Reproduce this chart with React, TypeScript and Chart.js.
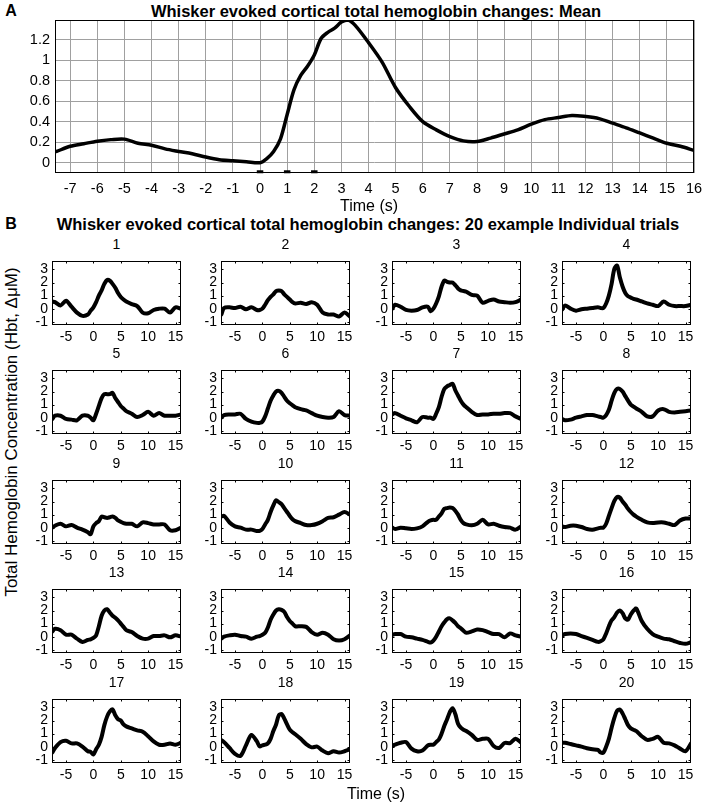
import React, { useEffect, useRef } from "react";
import { Chart, registerables } from "chart.js";

Chart.register(...registerables);

const FONT = "'Liberation Sans', Arial, Helvetica, sans-serif";

// ---------- Panel A: mean response ----------
const meanTime = [
  -7.5, -7, -6.5, -6, -5.5, -5, -4.5, -4, -3.5, -3, -2.5, -2, -1.5, -1, -0.5, 0,
  0.25, 0.5, 0.75, 1, 1.25, 1.5, 1.75, 2, 2.25, 2.5, 2.75, 3, 3.25, 3.5,
  4, 4.5, 5, 5.5, 6, 6.5, 7, 7.5, 8, 8.5, 9, 9.5, 10, 10.5, 11, 11.5, 12, 12.5,
  13, 13.5, 14, 14.5, 15, 15.5, 16,
];
const meanValues = [
  0.11, 0.16, 0.185, 0.21, 0.225, 0.23, 0.19, 0.17, 0.135, 0.11, 0.087, 0.055, 0.03, 0.02, 0.01, 0.0,
  0.04, 0.11, 0.23, 0.47, 0.71, 0.85, 0.94, 1.05, 1.21, 1.27, 1.31, 1.37, 1.39, 1.34,
  1.17, 0.98, 0.73, 0.55, 0.4, 0.32, 0.255, 0.213, 0.207, 0.24, 0.28, 0.32, 0.375, 0.42, 0.44, 0.46, 0.45, 0.43,
  0.385, 0.34, 0.29, 0.24, 0.19, 0.16, 0.12,
];
const stimTimes = [0, 1, 2];
const meanXTicks = [-7, -6, -5, -4, -3, -2, -1, 0, 1, 2, 3, 4, 5, 6, 7, 8, 9, 10, 11, 12, 13, 14, 15, 16];
const meanYTicks = [0, 0.2, 0.4, 0.6, 0.8, 1, 1.2];
const meanXRange = [-7.56, 16];
const meanYRange = [-0.1, 1.39];

// ---------- Panel B: individual trials ----------
const trialTime = [
  -7.5, -7, -6, -5, -4, -3, -2, -1,
  -0.5, 0, 0.5, 1, 1.5, 2, 2.5, 3, 3.5, 4, 4.5, 5, 5.5, 6,
  7, 8, 9, 10, 11, 12, 13, 14, 15, 16,
];
const trial1 = [0.55, 0.5, 0.25, 0.6, 0.15, -0.3, -0.55, -0.45, -0.15, 0.1, 0.5, 1.0, 1.4, 1.9, 2.2, 2.15, 1.9, 1.6, 1.2, 0.9, 0.7, 0.55, 0.35, 0.2, -0.3, -0.35, -0.1, 0, 0, -0.3, 0.1, 0];
const trial2 = [-0.45, 0.05, 0.1, 0.05, 0.15, -0.05, 0.1, -0.1, -0.1, 0.0, 0.3, 0.65, 0.9, 1.1, 1.35, 1.4, 1.35, 1.1, 0.9, 0.7, 0.5, 0.4, 0.45, 0.35, 0.5, 0.3, -0.3, -0.45, -0.45, -0.6, -0.3, -0.6];
const trial3 = [0.0, 0.3, 0.15, -0.1, -0.15, -0.1, 0.1, 0.15, -0.2, 0.0, 0.4, 0.95, 1.7, 2.15, 2.05, 2.0, 2.0, 1.8, 1.55, 1.4, 1.35, 1.3, 1.05, 1.0, 0.45, 0.6, 0.7, 0.55, 0.5, 0.45, 0.5, 0.7];
const trial4 = [-0.05, 0.25, 0.0, -0.15, -0.05, 0.0, 0.05, 0.1, 0.05, 0.05, 0.4, 1.0, 1.9, 3.05, 3.3, 2.4, 1.7, 1.2, 0.95, 0.85, 0.75, 0.7, 0.55, 0.4, 0.3, 0.2, 0.55, 0.3, 0.2, 0.2, 0.2, 0.3];
const trial5 = [-0.1, 0.15, 0.15, -0.1, -0.15, -0.2, 0.15, 0.15, 0.0, -0.2, 0.3, 0.9, 1.5, 1.8, 1.8, 1.8, 1.9, 1.5, 1.2, 0.9, 0.7, 0.5, 0.3, 0.05, 0.2, 0.45, 0.15, 0.35, 0.15, 0.15, 0.15, 0.25];
const trial6 = [0.0, 0.2, 0.25, 0.25, 0.3, -0.1, -0.3, -0.4, -0.4, -0.3, 0.1, 0.7, 1.3, 1.7, 2.0, 2.05, 1.9, 1.6, 1.3, 1.1, 0.95, 0.8, 0.65, 0.55, 0.35, 0.15, 0.05, 0.0, 0.05, 0.5, 0.2, 0.15];
const trial7 = [0.25, 0.35, 0.15, -0.05, -0.2, -0.35, 0.05, 0.0, 0.0, -0.1, 0.3, 0.8, 1.6, 2.2, 2.4, 2.5, 2.6, 2.1, 1.7, 1.3, 1.0, 0.8, 0.45, 0.2, 0.25, 0.25, 0.3, 0.3, 0.35, 0.35, 0.1, -0.1];
const trial8 = [-0.1, -0.2, -0.15, 0.0, 0.1, 0.2, 0.2, 0.1, 0.05, 0.0, 0.2, 0.6, 1.3, 1.9, 2.2, 2.2, 2.0, 1.65, 1.3, 1.0, 0.85, 0.7, 0.45, 0.1, 0.1, 0.55, 0.65, 0.45, 0.4, 0.45, 0.5, 0.55];
const trial9 = [0.0, 0.15, 0.3, 0.1, 0.2, 0.0, -0.15, -0.35, -0.5, 0.1, 0.35, 0.5, 0.85, 0.8, 0.75, 0.8, 0.85, 0.75, 0.55, 0.45, 0.35, 0.3, 0.3, 0.1, 0.4, 0.35, 0.25, 0.25, 0.25, -0.2, -0.2, 0.0];
const trial10 = [0.85, 0.9, 0.4, 0.1, 0.0, -0.15, -0.15, -0.25, -0.25, -0.1, 0.25, 0.6, 1.2, 1.7, 2.1, 1.95, 1.8, 1.5, 1.2, 0.9, 0.65, 0.5, 0.35, 0.2, 0.2, 0.3, 0.5, 0.75, 0.8, 1.0, 1.2, 1.0];
const trial11 = [0.0, -0.1, 0.0, -0.05, -0.1, -0.05, 0.1, 0.45, 0.55, 0.6, 0.6, 0.85, 1.1, 1.45, 1.5, 1.55, 1.5, 1.3, 1.0, 0.6, 0.35, 0.25, 0.18, 0.3, 0.6, 0.25, 0.3, 0.15, 0.05, 0.0, -0.15, 0.1];
const trial12 = [0.1, 0.05, 0.15, 0.15, 0.05, -0.1, -0.15, -0.05, 0.0, 0.0, 0.3, 0.9, 1.5, 2.05, 2.35, 2.3, 2.0, 1.75, 1.45, 1.2, 1.0, 0.85, 0.6, 0.4, 0.35, 0.4, 0.4, 0.3, 0.2, 0.55, 0.7, 0.7];
const trial13 = [0.4, 0.6, 0.5, 0.15, 0.15, -0.15, -0.4, -0.25, -0.2, -0.1, 0.1, 0.8, 1.6, 2.0, 2.1, 1.85, 1.6, 1.45, 1.25, 1.0, 0.75, 0.5, 0.35, 0.05, -0.15, -0.15, 0.05, 0.05, 0.1, -0.05, 0.1, 0.0];
const trial14 = [-0.15, 0.0, 0.1, 0.15, 0.05, 0.0, -0.15, 0.0, 0.05, 0.15, 0.3, 0.7, 1.3, 1.7, 2.0, 2.1, 2.05, 1.9, 1.5, 1.2, 1.0, 0.8, 0.8, 0.75, 0.35, 0.15, 0.3, 0.15, -0.2, -0.3, -0.2, 0.1];
const trial15 = [0.15, 0.2, 0.2, 0.0, -0.05, -0.15, -0.25, -0.4, -0.45, -0.3, 0.0, 0.4, 0.8, 1.1, 1.35, 1.4, 1.25, 1.05, 0.8, 0.65, 0.45, 0.3, 0.4, 0.55, 0.5, 0.35, 0.2, 0.2, -0.05, 0.25, 0.1, 0.0];
const trial16 = [0.1, 0.2, 0.25, 0.2, 0.05, -0.1, -0.25, -0.4, -0.35, -0.2, 0.25, 0.8, 1.25, 1.5, 1.85, 2.0, 1.8, 1.4, 1.3, 1.7, 2.0, 2.15, 1.2, 0.6, 0.2, 0.0, -0.15, -0.2, -0.35, -0.48, -0.55, -0.42];
const trial17 = [-0.45, -0.1, 0.35, 0.45, 0.25, 0.25, 0.0, -0.35, -0.4, -0.6, -0.2, 0.15, 0.75, 1.65, 2.3, 2.7, 2.85, 2.4, 2.1, 2.0, 1.7, 1.55, 1.4, 1.25, 1.15, 0.8, 0.4, 0.15, 0.15, 0.25, 0.15, 0.3];
const trial18 = [0.5, 0.35, -0.1, -0.55, -0.7, 0.1, 0.9, 0.4, 0.02, 0.1, 0.15, 0.25, 0.6, 1.2, 1.7, 2.4, 2.5, 2.15, 1.7, 1.3, 1.1, 0.95, 0.6, 0.2, -0.05, 0.0, -0.3, -0.5, -0.35, -0.45, -0.35, -0.2];
const trial19 = [0.05, 0.15, 0.3, 0.35, -0.15, -0.35, -0.3, 0.1, 0.15, 0.15, 0.35, 0.55, 1.0, 1.6, 2.1, 2.65, 2.95, 2.5, 1.75, 1.45, 1.3, 1.2, 0.9, 0.52, 0.6, 0.6, 0.05, -0.1, 0.28, 0.28, 0.6, 0.32];
const trial20 = [0.3, 0.3, 0.2, 0.1, 0.0, -0.12, -0.2, -0.25, -0.45, -0.45, 0.0, 0.6, 1.45, 2.2, 2.75, 2.85, 2.55, 2.1, 1.65, 1.4, 1.3, 1.2, 0.8, 0.52, 0.6, 0.75, 0.3, 0.25, 0.1, -0.15, -0.35, 0.25];

const trials = [
  trial1, trial2, trial3, trial4, trial5, trial6, trial7, trial8, trial9, trial10,
  trial11, trial12, trial13, trial14, trial15, trial16, trial17, trial18, trial19, trial20,
];
const trialLabels = ["1", "2", "3", "4", "5", "6", "7", "8", "9", "10", "11", "12", "13", "14", "15", "16", "17", "18", "19", "20"];
const trialXTicks = [-5, 0, 5, 10, 15];
const trialYTicks = [-1, 0, 1, 2, 3];
const trialXRange = [-7.56, 16];
const trialYRange = [-1.25, 3.65];

// ---------- layout ----------
const COL_LEFT = [52, 221, 392, 562];
const ROW_TOP = [261, 370, 480, 589, 699];
const SUB_W = 129;
const SUB_H = 64;

const framePlugin = {
  id: "frame",
  afterDraw(chart: any, _args: any, opts: any) {
    const { ctx, chartArea: a, scales } = chart;
    const x0 = Math.round(a.left) + 0.5;
    const y0 = Math.round(a.top) + 0.5;
    const x1 = Math.round(a.right) - 0.5;
    const y1 = Math.round(a.bottom) - 0.5;
    ctx.save();
    ctx.strokeStyle = "#000";
    ctx.lineWidth = 1;
    ctx.strokeRect(x0, y0, x1 - x0, y1 - y0);
    const len = (opts && opts.tickLen) || 0;
    if (len > 0) {
      ctx.beginPath();
      for (const t of scales.x.ticks) {
        const p = Math.round(scales.x.getPixelForValue(t.value)) + 0.5;
        ctx.moveTo(p, y1);
        ctx.lineTo(p, y1 - len);
        ctx.moveTo(p, y0);
        ctx.lineTo(p, y0 + len);
      }
      for (const t of scales.y.ticks) {
        const p = Math.round(scales.y.getPixelForValue(t.value)) + 0.5;
        ctx.moveTo(x0, p);
        ctx.lineTo(x0 + len, p);
        ctx.moveTo(x1, p);
        ctx.lineTo(x1 - len, p);
      }
      ctx.stroke();
    }
    ctx.restore();
  },
};

type Geo = { yW: number; pT: number; pR: number; xH: number };

function fmt(v: number) {
  return String(Math.round(v * 10) / 10);
}

function makeConfig(p: {
  datasets: any[];
  xRange: number[];
  yRange: number[];
  xTicks: number[];
  yTicks: number[];
  geo: Geo;
  fontSize: number;
  grid: boolean;
  tickLen: number;
  xPad: number;
  yPad: number;
}) {
  const fitX = (s: any) => {
    s.height = p.geo.xH;
    s.paddingLeft = 0;
    s.paddingRight = 0;
    s.paddingTop = 0;
    s.paddingBottom = 0;
  };
  const fitY = (s: any) => {
    s.width = p.geo.yW;
    s.paddingLeft = 0;
    s.paddingRight = 0;
    s.paddingTop = 0;
    s.paddingBottom = 0;
  };
  const gridOpts = p.grid
    ? { display: true, color: "#a0a0a0", lineWidth: 1, drawTicks: false }
    : { display: false, drawTicks: false };
  return {
    type: "line",
    data: { datasets: p.datasets },
    options: {
      responsive: false,
      animation: false,
      events: [],
      layout: { padding: { left: 0, top: p.geo.pT, right: p.geo.pR, bottom: 0 } },
      plugins: {
        legend: { display: false },
        tooltip: { enabled: false },
        title: { display: false },
        frame: { tickLen: p.tickLen },
      },
      scales: {
        x: {
          type: "linear",
          min: p.xRange[0],
          max: p.xRange[1],
          afterBuildTicks: (s: any) => {
            s.ticks = p.xTicks.map((v) => ({ value: v }));
          },
          afterFit: fitX,
          grid: gridOpts,
          border: { display: false },
          ticks: {
            autoSkip: false,
            maxRotation: 0,
            minRotation: 0,
            padding: p.xPad,
            color: "#000",
            font: { family: FONT, size: p.fontSize },
            callback: (v: any) => fmt(Number(v)),
          },
        },
        y: {
          type: "linear",
          min: p.yRange[0],
          max: p.yRange[1],
          afterBuildTicks: (s: any) => {
            s.ticks = p.yTicks.map((v) => ({ value: v }));
          },
          afterFit: fitY,
          grid: gridOpts,
          border: { display: false },
          ticks: {
            autoSkip: false,
            padding: p.yPad,
            color: "#000",
            font: { family: FONT, size: p.fontSize },
            callback: (v: any) => fmt(Number(v)),
          },
        },
      },
    },
    plugins: [framePlugin],
  };
}

function ChartBox(props: { left: number; top: number; right: number; bottom: number; geo: Geo; config: any }) {
  const ref = useRef<HTMLCanvasElement>(null);
  const { left, top, right, bottom, geo, config } = props;
  const cw = right - left + geo.yW + geo.pR;
  const ch = bottom - top + geo.pT + geo.xH;
  useEffect(() => {
    const chart = new Chart(ref.current as HTMLCanvasElement, config);
    return () => chart.destroy();
  }, []);
  return (
    <canvas
      ref={ref}
      width={cw}
      height={ch}
      style={{ position: "absolute", left: left - geo.yW, top: top - geo.pT, width: cw, height: ch }}
    />
  );
}

function Label(props: { x: number; baseline: number; size: number; bold?: boolean; children: any }) {
  const { x, baseline, size, bold, children } = props;
  return (
    <div
      style={{
        position: "absolute",
        left: x,
        top: baseline - 0.8465 * size,
        transform: "translateX(-50%)",
        fontSize: size,
        lineHeight: `${size}px`,
        fontWeight: bold ? "bold" : "normal",
        whiteSpace: "nowrap",
        fontFamily: FONT,
        color: "#000",
      }}
    >
      {children}
    </div>
  );
}

const lineStyle = {
  borderColor: "#000",
  pointRadius: 0,
  borderJoinStyle: "round",
  borderCapStyle: "round",
  fill: false,
};

export default function App() {
  const meanGeo: Geo = { yW: 55, pT: 10, pR: 13, xH: 30 };
  const stimY = meanYRange[0] + 0.012;
  const meanConfig = makeConfig({
    datasets: [
      {
        ...lineStyle,
        data: meanTime.map((t, i) => ({ x: t, y: meanValues[i] })),
        borderWidth: 3.5,
        tension: 0.3,
      },
      ...stimTimes.map((t) => ({
        ...lineStyle,
        borderCapStyle: "butt",
        data: [
          { x: t - 0.12, y: stimY },
          { x: t + 0.12, y: stimY },
        ],
        borderWidth: 3,
        tension: 0,
        clip: false,
      })),
    ],
    xRange: meanXRange,
    yRange: meanYRange,
    xTicks: meanXTicks,
    yTicks: meanYTicks,
    geo: meanGeo,
    fontSize: 14.5,
    grid: true,
    tickLen: 0,
    xPad: 7,
    yPad: 5,
  });

  const subGeo: Geo = { yW: 30, pT: 6, pR: 12, xH: 24 };

  return (
    <div
      style={{
        position: "absolute",
        left: 0,
        top: 0,
        width: 708,
        height: 809,
        background: "#fff",
        overflow: "hidden",
        fontFamily: FONT,
      }}
    >
      <Label x={11} baseline={16.7} size={16} bold>
        A
      </Label>
      <Label x={376} baseline={16.7} size={16.5} bold>
        Whisker evoked cortical total hemoglobin changes: Mean
      </Label>
      <ChartBox left={55} top={20} right={694} bottom={173} geo={meanGeo} config={meanConfig} />
      <Label x={369} baseline={212} size={16}>
        Time (s)
      </Label>

      <Label x={11} baseline={229.3} size={16} bold>
        B
      </Label>
      <Label x={368} baseline={230.3} size={16.5} bold>
        Whisker evoked cortical total hemoglobin changes: 20 example Individual trials
      </Label>

      {trials.map((vals, i) => {
        const col = i % 4;
        const row = Math.floor(i / 4);
        const L = COL_LEFT[col];
        const T = ROW_TOP[row];
        const cfg = makeConfig({
          datasets: [
            {
              ...lineStyle,
              data: trialTime.map((t, k) => ({ x: t, y: vals[k] })),
              borderWidth: 4,
              tension: 0.3,
            },
          ],
          xRange: trialXRange,
          yRange: trialYRange,
          xTicks: trialXTicks,
          yTicks: trialYTicks,
          geo: subGeo,
          fontSize: 14,
          grid: false,
          tickLen: 2,
          xPad: 4,
          yPad: 4,
        });
        return (
          <React.Fragment key={i}>
            <Label x={L + SUB_W / 2} baseline={T - 12} size={14}>
              {trialLabels[i]}
            </Label>
            <ChartBox left={L} top={T} right={L + SUB_W} bottom={T + SUB_H} geo={subGeo} config={cfg} />
          </React.Fragment>
        );
      })}

      <div
        style={{
          position: "absolute",
          left: 11,
          top: 432,
          transform: "translate(-50%, -50%) rotate(-90deg)",
          fontSize: 17,
          lineHeight: "17px",
          whiteSpace: "nowrap",
          fontFamily: FONT,
          color: "#000",
        }}
      >
        Total Hemoglobin Concentration (Hbt, ΔμM)
      </div>
      <Label x={376} baseline={799.5} size={16}>
        Time (s)
      </Label>
    </div>
  );
}
